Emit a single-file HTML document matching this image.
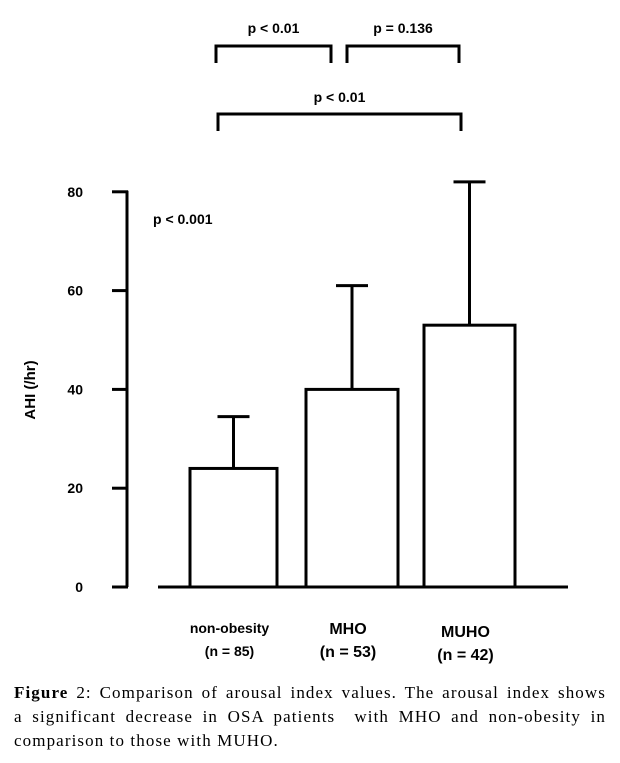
<!DOCTYPE html>
<html><head><meta charset="utf-8"><style>
body{margin:0;background:#fff;width:620px;height:763px;overflow:hidden;font-family:"Liberation Sans",sans-serif}
svg text{font-family:"Liberation Sans",sans-serif;font-weight:bold;fill:#000}
#cap{position:absolute;left:14px;top:681px;width:592px;font-family:"Liberation Serif",serif;font-size:17px;letter-spacing:1.1px;line-height:24px;color:#000}
#cap div{white-space:nowrap}
#cap .j{text-align:justify;text-align-last:justify}
</style></head><body>
<svg id="chart" width="620" height="680" style="position:absolute;left:0;top:0"></svg>
<div id="cap">
<div class="j"><b>Figure</b> 2: Comparison of arousal index values. The arousal index shows</div>
<div class="j">a significant decrease in OSA patients&nbsp; with MHO and non-obesity in</div>
<div>comparison to those with MUHO.</div>
</div>
<script>
const categories=["non-obesity","MHO","MUHO"];
const nLabels=["(n = 85)","(n = 53)","(n = 42)"];
const means=[24,40,53];
const errors=[10.5,21,29];
const ticks=[0,20,40,60,80];
const NS="http://www.w3.org/2000/svg";
const svg=document.getElementById('chart');
const y=v=>587-v*4.94;
const barX=[190,306,424], barW=[87,92,91];
function mk(t,a,txt){const e=document.createElementNS(NS,t);for(const k in a)e.setAttribute(k,a[k]);if(txt)e.textContent=txt;svg.appendChild(e);return e;}
let e=mk('line',{x1:127,y1:y(80)-1,x2:127,y2:y(0),stroke:'#000','stroke-width':3});


e=mk('line',{x1:158,y1:y(0),x2:568,y2:y(0),stroke:'#000','stroke-width':3});


ticks.forEach(t=>{
 let l=mk('line',{x1:112,y1:y(t),x2:128,y2:y(t),stroke:'#000','stroke-width':3});
 
 
 let tx=mk('text',{x:83,y:y(t)+5,'text-anchor':'end','font-size':14},String(t));
 
 
});
e=mk('text',{x:35,y:390,'text-anchor':'middle','font-size':15,transform:'rotate(-90 35 390)'},'AHI (/hr)');


categories.forEach((c,i)=>{
 const x=barX[i],w=barW[i],cx=x+w/2;
 let el=mk('line',{x1:cx,y1:y(means[i]),x2:cx,y2:y(means[i]+errors[i]),stroke:'#000','stroke-width':3});
 
 
 el=mk('line',{x1:cx-16,y1:y(means[i]+errors[i]),x2:cx+16,y2:y(means[i]+errors[i]),stroke:'#000','stroke-width':3});
 
 
 el=mk('rect',{x:x,y:y(means[i]),width:w,height:y(0)-y(means[i]),fill:'#fff',stroke:'#000','stroke-width':3});
 
 
});
const lblY=[[633,656],[634,657],[637,660]];
const lblS=[14,16,16];
categories.forEach((c,i)=>{
 const cx=barX[i]+barW[i]/2;
 let t=mk('text',{x:cx-4,y:lblY[i][0],'text-anchor':'middle','font-size':lblS[i]},c);
 
 
 t=mk('text',{x:cx-4,y:lblY[i][1],'text-anchor':'middle','font-size':lblS[i]},nLabels[i]);
 
 
});
e=mk('text',{x:153,y:224,'font-size':14},'p < 0.001');


function bracket(x1,x2,yy,label,ly,name){
 let p=mk('path',{d:`M${x1} ${yy+17}V${yy}H${x2}V${yy+17}`,fill:'none',stroke:'#000','stroke-width':3});
 
 
 let t=mk('text',{x:(x1+x2)/2,y:ly,'text-anchor':'middle','font-size':14},label);
 
 
}
bracket(216,331,46,'p < 0.01',33,'bracket-nonobesity-mho');
bracket(347,459,46,'p = 0.136',33,'bracket-mho-muho');
bracket(218,461,114,'p < 0.01',102,'bracket-nonobesity-muho');
</script>
</body></html>
